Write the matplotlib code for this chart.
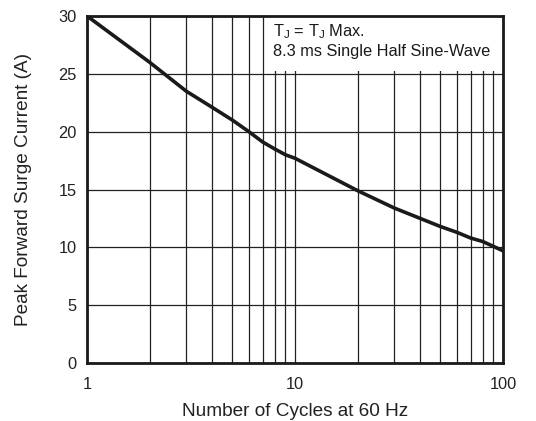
import matplotlib
matplotlib.use("Agg")
import matplotlib.pyplot as plt
from matplotlib.patches import Rectangle
from matplotlib.ticker import FixedLocator, NullFormatter

plt.rcParams['font.family'] = ['Liberation Sans', 'DejaVu Sans']

# curve
cycles = [1, 2, 3, 4, 5, 6, 7, 8, 9, 10, 20, 30, 40, 50, 60, 70, 80, 100]
current = [30.0, 26.0, 23.5, 22.1, 21.0, 20.0, 19.1, 18.5, 18.0, 17.7,
           14.9, 13.4, 12.5, 11.8, 11.3, 10.8, 10.5, 9.7]

x_ticks = [1, 10, 100]
x_labels = ['1', '10', '100']
y_ticks = [0, 5, 10, 15, 20, 25, 30]

fig = plt.figure(figsize=(5.36, 4.21), dpi=100)
ax = fig.add_axes([87 / 536, 58 / 421, 416 / 536, 347 / 421])

ax.set_xscale('log')
ax.set_xlim(1, 100)
ax.set_ylim(0, 30)
ax.set_xticks(x_ticks)
ax.set_xticklabels(x_labels)
ax.xaxis.set_minor_locator(FixedLocator([m * d for d in (1, 10) for m in range(2, 10)]))
ax.xaxis.set_minor_formatter(NullFormatter())
ax.set_yticks(y_ticks)

ax.grid(True, which='both', color='#222222', linewidth=0.9)
ax.tick_params(which='both', length=0, labelsize=11.8, colors='#222222')
ax.tick_params(axis='y', pad=7.5)
ax.tick_params(axis='x', pad=10)
for s in ax.spines.values():
    s.set_linewidth(2)
    s.set_color('#1a1a1a')

ax.plot(cycles, current, color='#1a1a1a', linewidth=2.6, solid_capstyle='butt', zorder=3)

# white panel behind the note, covering the grid
ax.add_patch(Rectangle((0.430, 0.842), 0.57, 0.16, transform=ax.transAxes,
                       facecolor='white', edgecolor='none', zorder=2.5))
ax.text(0.448, 0.982, 'T$_\\mathregular{J}$ = T$_\\mathregular{J}$ Max.\n8.3 ms Single Half Sine-Wave',
        transform=ax.transAxes, ha='left', va='top', fontsize=11.8, color='#1a1a1a',
        linespacing=1.25, zorder=4)

ax.set_xlabel('Number of Cycles at 60 Hz', fontsize=13.7, color='#222222', labelpad=8)
ax.set_ylabel('Peak Forward Surge Current (A)', fontsize=13.7, color='#222222', labelpad=19)

fig.savefig('out.png', dpi=100)
